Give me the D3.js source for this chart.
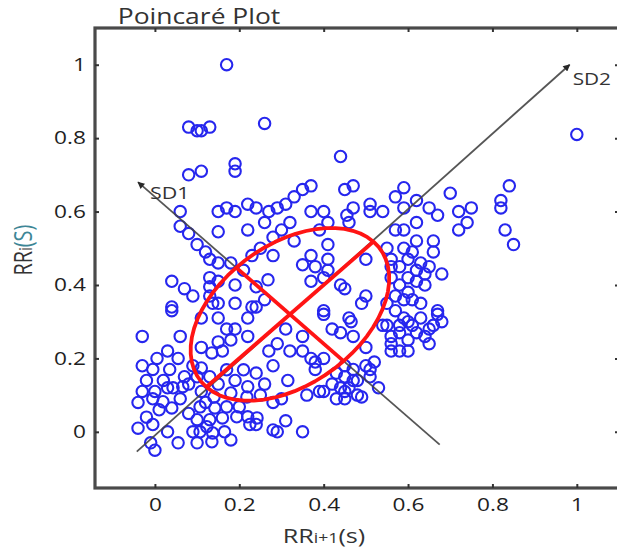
<!DOCTYPE html>
<html>
<head>
<meta charset="utf-8">
<script src="https://cdn.jsdelivr.net/npm/d3@7"></script>
<style>
  body { margin: 0; background: #fff; overflow: hidden; }
  svg { display: block; font-family: "Open Sans", sans-serif; }
</style>
</head>
<body>
<svg id="chart"></svg>
<script>
// RR(i+1) on x, RR(i) on y (seconds)
const rrNext = [
  0.17, 0.08, 0.10, 0.11, 0.13, 0.26, 0.19, 0.19, 0.08, 0.11, 0.44, 1.00,
  0.35, 0.37, 0.33, 0.31, 0.29, 0.27, 0.26, 0.32, 0.37, 0.40, 0.41, 0.39,
  0.45, 0.47, 0.47, 0.51, 0.51, 0.54, 0.46, 0.455, 0.15, 0.17, 0.22, 0.19,
  0.15, 0.22, 0.06, 0.06, 0.08, 0.10, 0.12, 0.13, 0.15, 0.18, 0.04, 0.07,
  0.09, 0.04, 0.13, 0.13, 0.15, 0.19, 0.13, 0.15, 0.19, 0.23, 0.24, 0.41,
  0.35, 0.37, 0.38, 0.41, 0.41, 0.37, 0.40, 0.45, 0.50, 0.50, 0.26, 0.24,
  0.40, 0.55, 0.56, 0.55, 0.25, 0.28, 0.59, 0.57, 0.59, 0.62, 0.65, 0.67,
  0.62, 0.57, 0.70, 0.72, 0.75, 0.74, 0.72, 0.84, 0.82, 0.82, 0.83, 0.85,
  0.59, 0.66, 0.66, 0.60, 0.63, 0.62, 0.65, 0.68, 0.56, 0.56, 0.60, 0.62,
  0.64, 0.58, 0.60, 0.57, 0.67, 0.40, 0.42, 0.46, 0.49, 0.50, 0.51, 0.55,
  0.58, 0.60, 0.67, 0.68, 0.65, 0.56, 0.60, 0.44, 0.59, 0.35, 0.36, 0.39,
  0.45, 0.48, 0.38, 0.66, 0.61, 0.58, 0.60, 0.58, 0.56, 0.465, 0.44, 0.47,
  0.54, 0.56, 0.31, 0.35, 0.29, 0.27, 0.32, 0.35, 0.37, 0.40, 0.38, 0.28,
  0.24, 0.315, 0.26, 0.43, 0.45, 0.47, 0.50, 0.51, 0.49, 0.45, 0.43, 0.40,
  0.30, 0.28, 0.25, 0.24, 0.31, 0.29, 0.04, -0.03, 0.06, 0.11, 0.15, 0.22,
  0.17, 0.19, 0.15, 0.18, 0.22, 0.135, 0.16, 0.11, 0.005, 0.03, 0.055, 0.09,
  -0.005, 0.035, 0.07, -0.02, 0.02, 0.043, -0.03, 0.00, -0.04, -0.005, 0.04, -0.02,
  -0.04, -0.005, 0.03, -0.01, 0.00, 0.055, 0.11, 0.14, 0.18, 0.107, 0.142, 0.17,
  0.10, 0.13, 0.16, 0.107, 0.137, 0.10, 0.135, 0.165, 0.20, 0.22, 0.18, 0.17,
  0.21, 0.22, 0.11, -0.03, 0.066, 0.019, 0.194, 0.225, 0.28, 0.09, 0.123, 0.218,
  0.242, 0.137, 0.24, 0.268,
  0.61, 0.63, 0.62, 0.64, 0.59, 0.57, 0.63, 0.65, 0.58, 0.61, 0.64, 0.59,
  0.62, 0.42, 0.44, 0.46, 0.48, 0.47, 0.45, 0.53, 0.52, 0.08, 0.10, 0.06,
  0.08, 0.12, 0.15, 0.19, 0.13, 0.03, 0.01, 0.30, 0.33, 0.28, 0.21, 0.23
];
const rrCurr = [
  1.00, 0.83, 0.82, 0.82, 0.83, 0.84, 0.73, 0.71, 0.70, 0.71, 0.75, 0.81,
  0.66, 0.67, 0.64, 0.62, 0.61, 0.60, 0.57, 0.57, 0.60, 0.60, 0.57, 0.55,
  0.66, 0.67, 0.61, 0.62, 0.60, 0.60, 0.57, 0.59, 0.60, 0.61, 0.62, 0.60,
  0.545, 0.55, 0.60, 0.56, 0.54, 0.51, 0.49, 0.47, 0.46, 0.46, 0.41, 0.39,
  0.37, 0.34, 0.42, 0.395, 0.41, 0.40, 0.37, 0.35, 0.35, 0.34, 0.61, 0.51,
  0.455, 0.48, 0.45, 0.47, 0.44, 0.41, 0.42, 0.39, 0.47, 0.37, 0.36, 0.34,
  0.33, 0.35, 0.45, 0.50, 0.50, 0.53, 0.665, 0.64, 0.61, 0.63, 0.61, 0.59,
  0.57, 0.55, 0.65, 0.60, 0.61, 0.57, 0.55, 0.67, 0.63, 0.61, 0.55, 0.51,
  0.50, 0.52, 0.49, 0.47, 0.46, 0.44, 0.45, 0.43, 0.47, 0.42, 0.42, 0.41,
  0.40, 0.40, 0.38, 0.37, 0.33, 0.32, 0.28, 0.31, 0.35, 0.23, 0.17, 0.29,
  0.29, 0.30, 0.32, 0.30, 0.24, 0.22, 0.22, 0.40, 0.36, 0.00, 0.10, 0.11,
  0.09, 0.10, 0.19, 0.29, 0.29, 0.27, 0.25, 0.22, 0.24, 0.30, 0.27, 0.26,
  0.29, 0.26, 0.28, 0.26, 0.24, 0.22, 0.22, 0.22, 0.20, 0.20, 0.17, 0.18,
  0.16, 0.14, 0.13, 0.16, 0.15, 0.14, 0.18, 0.15, 0.095, 0.11, 0.09, 0.11,
  0.09, 0.08, 0.10, 0.02, 0.03, 0.00, 0.33, 0.26, 0.26, 0.31, 0.31, 0.31,
  0.28, 0.28, 0.245, 0.25, 0.26, 0.215, 0.22, 0.23, 0.20, 0.22, 0.20, 0.18,
  0.17, 0.17, 0.15, 0.14, 0.14, 0.12, 0.11, 0.11, 0.08, 0.09, 0.065, 0.04,
  0.01, 0.02, 0.00, -0.03, -0.05, -0.03, 0.11, 0.095, 0.106, 0.068, 0.065, 0.068,
  0.033, 0.033, 0.038, 0.00, -0.003, -0.03, -0.027, 0.00, 0.068, 0.041, -0.022, 0.169,
  0.169, 0.123, 0.174, 0.18, 0.123, 0.082, 0.041, 0.02, 0.005, 0.00, 0.014, 0.095,
  0.038, 0.35, 0.395, 0.414,
  0.36, 0.35, 0.27, 0.26, 0.31, 0.33, 0.31, 0.28, 0.45, 0.49, 0.43, 0.55,
  0.52, 0.13, 0.12, 0.12, 0.14, 0.17, 0.18, 0.12, 0.19, 0.13, 0.15, 0.09,
  0.05, 0.08, 0.13, 0.14, 0.15, 0.12, 0.06, 0.55, 0.52, 0.48, 0.44, 0.48
];

const xTicks = [0, 0.2, 0.4, 0.6, 0.8, 1];
const yTicks = [0, 0.2, 0.4, 0.6, 0.8, 1];

// fitted ellipse: centre and the two standard deviations
const centre = [0.32, 0.32];
const sd1 = 0.18;
const sd2 = 0.28;
// drawn SD axes (start / end in data units)
const sd1Line = [[-0.04, 0.68], [0.675, -0.035]];
const sd2Line = [[-0.043, -0.054], [0.983, 1.0]];

const W = 617, H = 553;
const SX = 1.26; // the source text is stretched sideways
const margin = { top: 28, right: -2, bottom: 65, left: 95 };

const svg = d3.select("#chart").attr("width", W).attr("height", H);

const x = d3.scaleLinear().domain([-0.142, 1.10]).range([margin.left, W - margin.right]);
const y = d3.scaleLinear().domain([-0.153, 1.10]).range([H - margin.bottom, margin.top]);

// arrow head used by the SD axes
svg.append("defs").append("marker")
  .attr("id", "arrow")
  .attr("viewBox", "0 0 10 10")
  .attr("refX", 9).attr("refY", 5)
  .attr("markerWidth", 8).attr("markerHeight", 7)
  .attr("markerUnits", "userSpaceOnUse")
  .attr("orient", "auto-start-reverse")
  .append("path").attr("d", "M0,0 L10,5 L0,10 z").attr("fill", "#111");

// plot area
svg.append("rect")
  .attr("x", x.range()[0]).attr("y", y.range()[1])
  .attr("width", x.range()[1] - x.range()[0])
  .attr("height", y.range()[0] - y.range()[1])
  .attr("fill", "#fff");

// points
const pts = rrNext.map((d, i) => ({ x: d, y: rrCurr[i] }));
svg.append("g")
  .selectAll("circle")
  .data(pts)
  .join("circle")
  .attr("cx", d => x(d.x))
  .attr("cy", d => y(d.y))
  .attr("r", 5.7)
  .attr("fill", "none")
  .attr("stroke", "#2626ee")
  .attr("stroke-width", 2.1);

// SD axes (grey)
const line = d3.line().x(d => x(d[0])).y(d => y(d[1]));
svg.append("path").datum(sd1Line)
  .attr("d", line)
  .attr("stroke", "#444").attr("stroke-width", 1.8).attr("fill", "none")
  .attr("opacity", 0.9)
  .attr("marker-start", "url(#arrow)");
svg.append("path").datum(sd2Line)
  .attr("d", line)
  .attr("stroke", "#444").attr("stroke-width", 1.8).attr("fill", "none")
  .attr("opacity", 0.9)
  .attr("marker-end", "url(#arrow)");

// ellipse + its axes (red)
const u = [Math.SQRT1_2, Math.SQRT1_2];   // SD2 direction
const v = [-Math.SQRT1_2, Math.SQRT1_2];  // SD1 direction
const ell = d3.range(0, 361, 6).map(a => {
  const t = a * Math.PI / 180;
  return [
    centre[0] + sd2 * Math.cos(t) * u[0] + sd1 * Math.sin(t) * v[0],
    centre[1] + sd2 * Math.cos(t) * u[1] + sd1 * Math.sin(t) * v[1]
  ];
});
const red = svg.append("g").attr("fill", "none").attr("stroke", "#ff1414")
  .attr("stroke-width", 3.8).attr("stroke-linejoin", "round");
red.append("path").datum(ell).attr("d", d3.line().x(d => x(d[0])).y(d => y(d[1])).curve(d3.curveLinearClosed));
red.append("path").datum([
  [centre[0] - sd2 * u[0], centre[1] - sd2 * u[1]],
  [centre[0] + sd2 * u[0], centre[1] + sd2 * u[1]]
]).attr("d", line);
red.append("path").datum([
  [centre[0] - sd1 * v[0], centre[1] - sd1 * v[1]],
  [centre[0] + sd1 * v[0], centre[1] + sd1 * v[1]]
]).attr("d", line);

// SD labels
svg.append("text")
  .attr("transform", `translate(${x(sd1Line[0][0]) + 12},${y(sd1Line[0][1]) + 17}) scale(${SX},1)`)
  .attr("font-size", 17).attr("fill", "#333").text("SD1");
svg.append("text")
  .attr("transform", `translate(${x(sd2Line[1][0]) + 3},${y(sd2Line[1][1]) + 20}) scale(${SX},1)`)
  .attr("font-size", 16.5).attr("fill", "#333").text("SD2");

// frame
svg.append("rect")
  .attr("x", x.range()[0]).attr("y", y.range()[1])
  .attr("width", x.range()[1] - x.range()[0])
  .attr("height", y.range()[0] - y.range()[1])
  .attr("fill", "none").attr("stroke", "#4a4a4a").attr("stroke-width", 3.2);

// axes: inward ticks on all four sides
const fmt = d3.format("~g");
const styleAxis = g => {
  g.select(".domain").remove();
  g.selectAll(".tick line").attr("stroke", "#333").attr("stroke-width", 2);
  g.selectAll(".tick text").attr("fill", "#1f1f1f").attr("font-size", 18)
    .attr("font-family", "Open Sans, sans-serif");
};
svg.append("g").attr("transform", `translate(0,${y.range()[0]})`)
  .call(d3.axisBottom(x).tickValues(xTicks).tickSizeInner(-4).tickSizeOuter(0).tickFormat(fmt))
  .call(styleAxis)
  .call(g => g.selectAll(".tick text").attr("y", 10).attr("transform", `scale(${SX},1)`));
svg.append("g").attr("transform", `translate(0,${y.range()[1]})`)
  .call(d3.axisTop(x).tickValues(xTicks).tickSizeInner(-4).tickSizeOuter(0).tickFormat(""))
  .call(styleAxis);
svg.append("g").attr("transform", `translate(${x.range()[0]},0)`)
  .call(d3.axisLeft(y).tickValues(yTicks).tickSizeInner(-4).tickSizeOuter(0).tickFormat(fmt))
  .call(styleAxis)
  .call(g => g.selectAll(".tick text").attr("x", -9 / SX).attr("transform", `scale(${SX},1)`));
svg.append("g").attr("transform", `translate(${x.range()[1]},0)`)
  .call(d3.axisRight(y).tickValues(yTicks).tickSizeInner(-4).tickSizeOuter(0).tickFormat(""))
  .call(styleAxis);

// title
svg.append("text")
  .attr("transform", `translate(199,24) scale(${SX},1)`)
  .attr("text-anchor", "middle").attr("font-size", 21).attr("fill", "#333")
  .text("Poincaré Plot");

// x label
const xl = svg.append("text")
  .attr("transform", `translate(324,543) scale(${SX},1)`)
  .attr("text-anchor", "middle").attr("font-size", 20).attr("fill", "#333");
xl.append("tspan").text("RR");
xl.append("tspan").attr("font-size", 14).text("i+1");
xl.append("tspan").text("(s)");

// y label
const yl = svg.append("text")
  .attr("transform", `translate(32,250) scale(${SX},1) rotate(-90)`)
  .attr("text-anchor", "middle").attr("font-size", 20).attr("fill", "#333");
yl.append("tspan").text("RR");
yl.append("tspan").attr("font-size", 14).text("i");
yl.append("tspan").attr("fill", "#3d8696").text("(S)");
</script>
</body>
</html>
